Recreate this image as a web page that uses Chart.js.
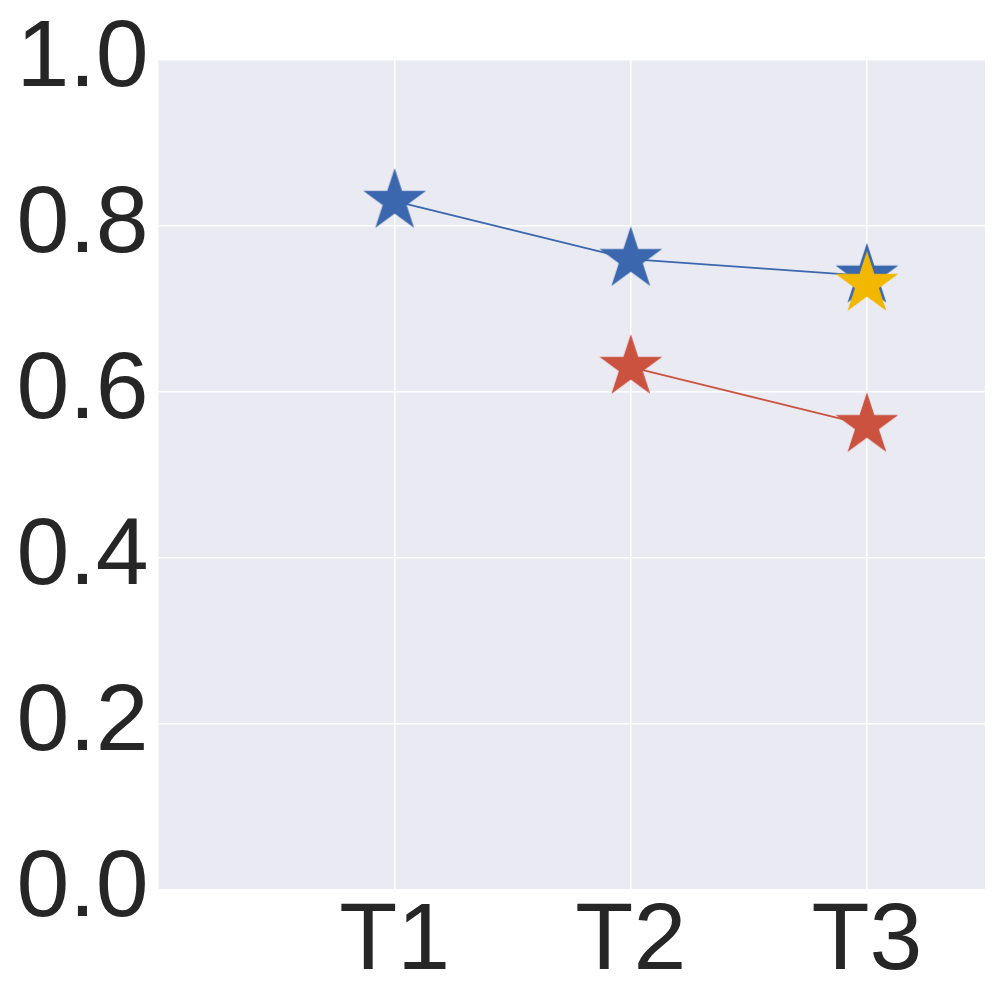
<!DOCTYPE html>
<html>
<head>
<meta charset="utf-8">
<script src="https://cdn.jsdelivr.net/npm/chart.js@4"></script>
<style>
  html, body { margin: 0; padding: 0; background: #fff; }
  #wrap { width: 1000px; height: 1000px; }
</style>
</head>
<body>
<div id="wrap"><canvas id="grafico"></canvas></div>
<script>
// dados
const categorias = ['T1', 'T2', 'T3'];
const posicoes = [1, 2, 3];
const serieAzul = [0.83, 0.76, 0.74];
const serieVermelha = [null, 0.63, 0.56];
const serieAmarela = [null, null, 0.73];
const ticksY = [0, 0.2, 0.4, 0.6, 0.8, 1.0];

const AZUL = '#3a67ae';
const VERMELHO = '#cc5240';
const AMARELO = '#f2b701';

function estrela(cor) {
  const R = 33, r = R * 0.381966, tam = 72;
  const c = document.createElement('canvas');
  c.width = tam; c.height = tam;
  const g = c.getContext('2d');
  g.fillStyle = cor;
  g.beginPath();
  for (let i = 0; i < 10; i++) {
    const ang = -Math.PI / 2 + i * Math.PI / 5;
    const rr = i % 2 === 0 ? R : r;
    const px = tam / 2 + rr * Math.cos(ang);
    const py = tam / 2 + rr * Math.sin(ang);
    if (i === 0) g.moveTo(px, py); else g.lineTo(px, py);
  }
  g.closePath();
  g.fill();
  return c;
}

function pontos(serie) {
  return posicoes.map((x, i) => ({ x: x, y: serie[i] })).filter(p => p.y !== null);
}

const fundo = {
  id: 'fundo',
  beforeDraw(chart) {
    const a = chart.chartArea, ctx = chart.ctx;
    ctx.save();
    ctx.fillStyle = '#eaeaf2';
    ctx.fillRect(a.left, a.top, a.right - a.left, a.bottom - a.top);
    ctx.restore();
  }
};

const fonte = { family: '"Liberation Sans", Arial, sans-serif', size: 95, lineHeight: 1.0 };

new Chart(document.getElementById('grafico'), {
  type: 'line',
  data: {
    datasets: [
      { data: pontos(serieAzul), borderColor: AZUL, backgroundColor: AZUL, borderWidth: 1.8,
        pointStyle: estrela(AZUL), order: 2 },
      { data: pontos(serieVermelha), borderColor: VERMELHO, backgroundColor: VERMELHO, borderWidth: 1.8,
        pointStyle: estrela(VERMELHO), order: 1 },
      { data: pontos(serieAmarela), borderColor: AMARELO, backgroundColor: AMARELO, borderWidth: 1.8,
        pointStyle: estrela(AMARELO), order: 0 }
    ]
  },
  options: {
    responsive: true,
    maintainAspectRatio: false,
    animation: false,
    layout: { padding: { left: 15, right: 15, top: 60, bottom: 0 } },
    plugins: { legend: { display: false }, tooltip: { enabled: false } },
    scales: {
      x: {
        type: 'linear',
        min: 0,
        max: 3.5,
        afterBuildTicks: s => { s.ticks = posicoes.map(v => ({ value: v })); },
        afterFit: s => { s.height = 110; },
        ticks: {
          color: '#262626',
          font: fonte,
          padding: 5,
          maxRotation: 0,
          callback: v => categorias[posicoes.indexOf(v)] || ''
        },
        grid: { color: '#ffffff', lineWidth: 1.5, drawTicks: false },
        border: { display: false }
      },
      y: {
        min: 0,
        max: 1,
        afterBuildTicks: s => { s.ticks = ticksY.map(v => ({ value: v })); },
        afterFit: s => { s.width = 143.5; },
        ticks: {
          color: '#262626',
          font: fonte,
          padding: 10,
          callback: v => v.toFixed(1)
        },
        grid: { color: '#ffffff', lineWidth: 1.5, drawTicks: false },
        border: { display: false }
      }
    }
  },
  plugins: [fundo]
});
</script>
</body>
</html>
